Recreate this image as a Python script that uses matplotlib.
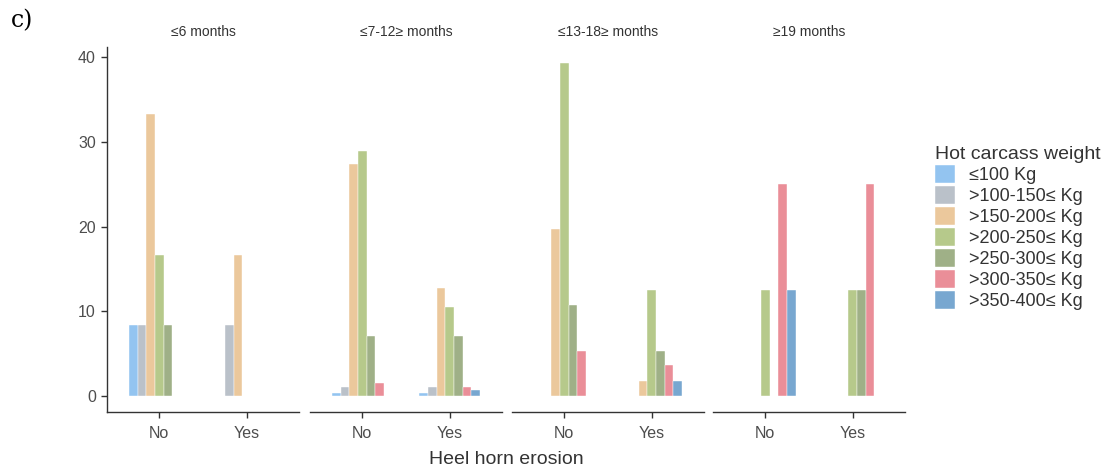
import numpy as np
import matplotlib.pyplot as plt
from matplotlib.patches import Patch

plt.rcParams['font.family'] = ['Liberation Sans', 'DejaVu Sans']

panels = ["≤6 months", "≤7-12≥ months", "≤13-18≥ months", "≥19 months"]
groups = ["No", "Yes"]
weights = ["≤100 Kg", ">100-150≤ Kg", ">150-200≤ Kg", ">200-250≤ Kg",
           ">250-300≤ Kg", ">300-350≤ Kg", ">350-400≤ Kg"]
colors = ["#93c4f0", "#bac1c9", "#ebc89c", "#b6c98b", "#9fb087", "#ea8e98", "#78a7d0"]

# percentages per panel: rows = weight class, cols = [No, Yes]
p_6 = [[8.33, 0], [8.33, 8.33], [33.33, 16.67], [16.67, 0], [8.33, 0], [0, 0], [0, 0]]
p_7_12 = [[0.35, 0.35], [1.1, 1.1], [27.4, 12.75], [28.9, 10.5], [7.1, 7.1], [1.5, 1.1], [0, 0.75]]
p_13_18 = [[0, 0], [0, 0], [19.7, 1.8], [39.3, 12.5], [10.7, 5.35], [5.35, 3.6], [0, 1.8]]
p_19 = [[0, 0], [0, 0], [0, 0], [12.5, 12.5], [0, 12.5], [25, 25], [12.5, 0]]
data = [p_6, p_7_12, p_13_18, p_19]

fig = plt.figure(figsize=(11.08, 4.75), dpi=100)
W, H = 1108, 475
lefts = [107, 310, 512, 713]
width = 192
bottom_px, top_px = 412, 47

axes = []
for k, left in enumerate(lefts):
    ax = fig.add_axes([left / W, (H - bottom_px) / H, width / W, (bottom_px - top_px) / H])
    vals = np.array(data[k])
    x = np.arange(1, len(groups) + 1)
    bw = 0.1
    for i in range(len(weights)):
        off = (i - 3) * bw
        h = vals[i]
        mask = h > 0
        ax.bar(x[mask] + off, h[mask], width=bw, color=colors[i],
               edgecolor='white', linewidth=0.3)
    ax.set_xlim(0.4, 2.6)
    ax.set_ylim(-1.9, 41.2)
    ax.set_xticks(x)
    ax.set_xticklabels(groups, fontsize=11.5, color='#4d4d4d')
    ax.tick_params(axis='x', length=4, width=1, color='#333333', pad=6)
    for s in ['top', 'right']:
        ax.spines[s].set_visible(False)
    ax.spines['bottom'].set_color('#333333')
    ax.spines['bottom'].set_linewidth(1)
    if k == 0:
        ax.set_yticks([0, 10, 20, 30, 40])
        ax.set_yticklabels(['0', '10', '20', '30', '40'], fontsize=11.5, color='#4d4d4d')
        ax.tick_params(axis='y', length=4, width=1, color='#333333', pad=4)
        ax.spines['left'].set_color('#333333')
        ax.spines['left'].set_linewidth(1)
    else:
        ax.spines['left'].set_visible(False)
        ax.set_yticks([])
    fig.text((left + width / 2) / W, 1 - 32 / H, panels[k], fontsize=10, color='#333333',
             ha='center', va='center')
    axes.append(ax)

fig.text(506 / W, 1 - 460 / H, "Heel horn erosion", fontsize=14, color='#333333',
         ha='center', va='center')
fig.text(22 / W, 1 - 21 / H, "c)", fontsize=17, family='DejaVu Serif', ha='center', va='center')

handles = [Patch(facecolor=c, edgecolor='white', linewidth=0.3) for c in colors]
leg = fig.legend(handles, weights, title="Hot carcass weight", loc='upper left',
                 bbox_to_anchor=(928 / W, 1 - 139 / H), frameon=False, fontsize=13,
                 title_fontsize=14, handlelength=1.1, handleheight=1.1,
                 labelspacing=0.12, handletextpad=0.75, borderaxespad=0)
leg._legend_box.align = 'left'
for t in leg.get_texts():
    t.set_color('#333333')
leg.get_title().set_color('#333333')

fig.savefig('out.png', dpi=100)
